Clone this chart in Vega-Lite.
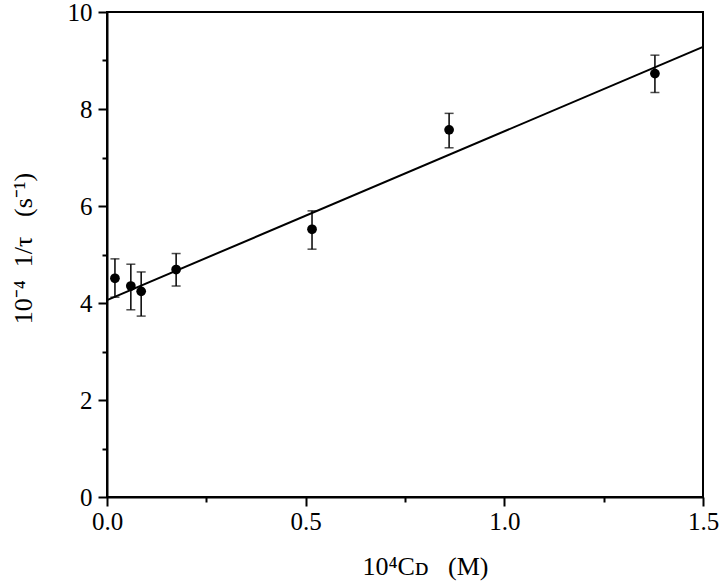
{
  "$schema": "https://vega.github.io/schema/vega-lite/v6.json",
  "width": 596,
  "height": 485,
  "autosize": "none",
  "padding": {"left": 107, "top": 12, "right": 17, "bottom": 87},
  "background": "white",
  "config": {
    "view": {"stroke": "black", "strokeWidth": 2},
    "font": "Liberation Serif"
  },
  "datasets": {
    "points": [
      {"x": 0.020, "y": 4.51, "lo": 4.12, "hi": 4.91},
      {"x": 0.060, "y": 4.35, "lo": 3.86, "hi": 4.80},
      {"x": 0.086, "y": 4.24, "lo": 3.73, "hi": 4.64},
      {"x": 0.174, "y": 4.69, "lo": 4.35, "hi": 5.02},
      {"x": 0.516, "y": 5.52, "lo": 5.11, "hi": 5.90},
      {"x": 0.861, "y": 7.57, "lo": 7.20, "hi": 7.91},
      {"x": 1.379, "y": 8.73, "lo": 8.34, "hi": 9.11}
    ],
    "fit": [
      {"x": 0, "y": 4.06},
      {"x": 1.5, "y": 9.28}
    ]
  },
  "encoding": {
    "x": {
      "field": "x",
      "type": "quantitative",
      "scale": {"domain": [0, 1.5], "nice": false, "zero": false},
      "axis": {
        "grid": false,
        "domainColor": "black",
        "domainWidth": 2,
        "tickColor": "black",
        "tickWidth": 2,
        "labelFont": "Liberation Serif",
        "labelFontSize": 25,
        "labelColor": "black",
        "labelFlush": false,
        "labelOverlap": false,
        "labelBound": false,
        "titleFont": "Liberation Serif",
        "titleFontSize": 26,
        "titleFontWeight": "normal",
        "titleColor": "black",
        "title": "10\u2074C\u1d05\u00a0\u00a0\u00a0(M)",
        "values": [0, 0.25, 0.5, 0.75, 1.0, 1.25, 1.5],
        "labelExpr": "datum.value % 0.5 === 0 ? format(datum.value, '.1f') : ''",
        "tickSize": {"condition": {"test": "datum.value % 0.5 !== 0", "value": 5}, "value": 9},
        "labelPadding": 3,
        "titleX": 318,
        "titleY": 77,
        "titleAlign": "center",
        "titleBaseline": "alphabetic",
        "titleAnchor": null
      }
    }
  },
  "layer": [
    {
      "data": {"name": "fit"},
      "mark": {"type": "line", "color": "black", "strokeWidth": 2},
      "encoding": {
        "y": {
          "field": "y",
          "type": "quantitative",
          "scale": {"domain": [0, 10], "nice": false},
          "axis": {
            "grid": false,
            "domainColor": "black",
            "domainWidth": 2,
            "tickColor": "black",
            "tickWidth": 2,
            "labelFont": "Liberation Serif",
            "labelFontSize": 25,
            "labelColor": "black",
            "labelFlush": false,
            "labelOverlap": false,
            "labelBound": false,
            "titleFont": "Liberation Serif",
            "titleFontSize": 26,
            "titleFontWeight": "normal",
            "titleColor": "black",
            "title": "10\u207b\u2074\u00a0\u00a01/\u03c4\u00a0\u00a0\u00a0(s\u207b\u00b9)",
            "values": [0, 1, 2, 3, 4, 5, 6, 7, 8, 9, 10],
            "labelExpr": "datum.value % 2 === 0 ? format(datum.value, 'd') : ''",
            "tickSize": {"condition": {"test": "datum.value % 2 !== 0", "value": 5}, "value": 9},
            "labelPadding": 6,
            "titleX": -76,
            "titleY": 236,
            "titleAlign": "center",
            "titleBaseline": "alphabetic",
            "titleAngle": 270
          }
        }
      }
    },
    {
      "data": {"name": "points"},
      "mark": {"type": "rule", "color": "black", "strokeWidth": 1.5},
      "encoding": {
        "y": {"field": "lo", "type": "quantitative"},
        "y2": {"field": "hi"}
      }
    },
    {
      "data": {"name": "points"},
      "mark": {"type": "tick", "orient": "horizontal", "color": "black", "size": 9, "thickness": 1.5},
      "encoding": {
        "y": {"field": "lo", "type": "quantitative"}
      }
    },
    {
      "data": {"name": "points"},
      "mark": {"type": "tick", "orient": "horizontal", "color": "black", "size": 9, "thickness": 1.5},
      "encoding": {
        "y": {"field": "hi", "type": "quantitative"}
      }
    },
    {
      "data": {"name": "points"},
      "mark": {"type": "point", "shape": "circle", "filled": true, "color": "black", "opacity": 1, "size": 95},
      "encoding": {
        "y": {"field": "y", "type": "quantitative"}
      }
    }
  ]
}
